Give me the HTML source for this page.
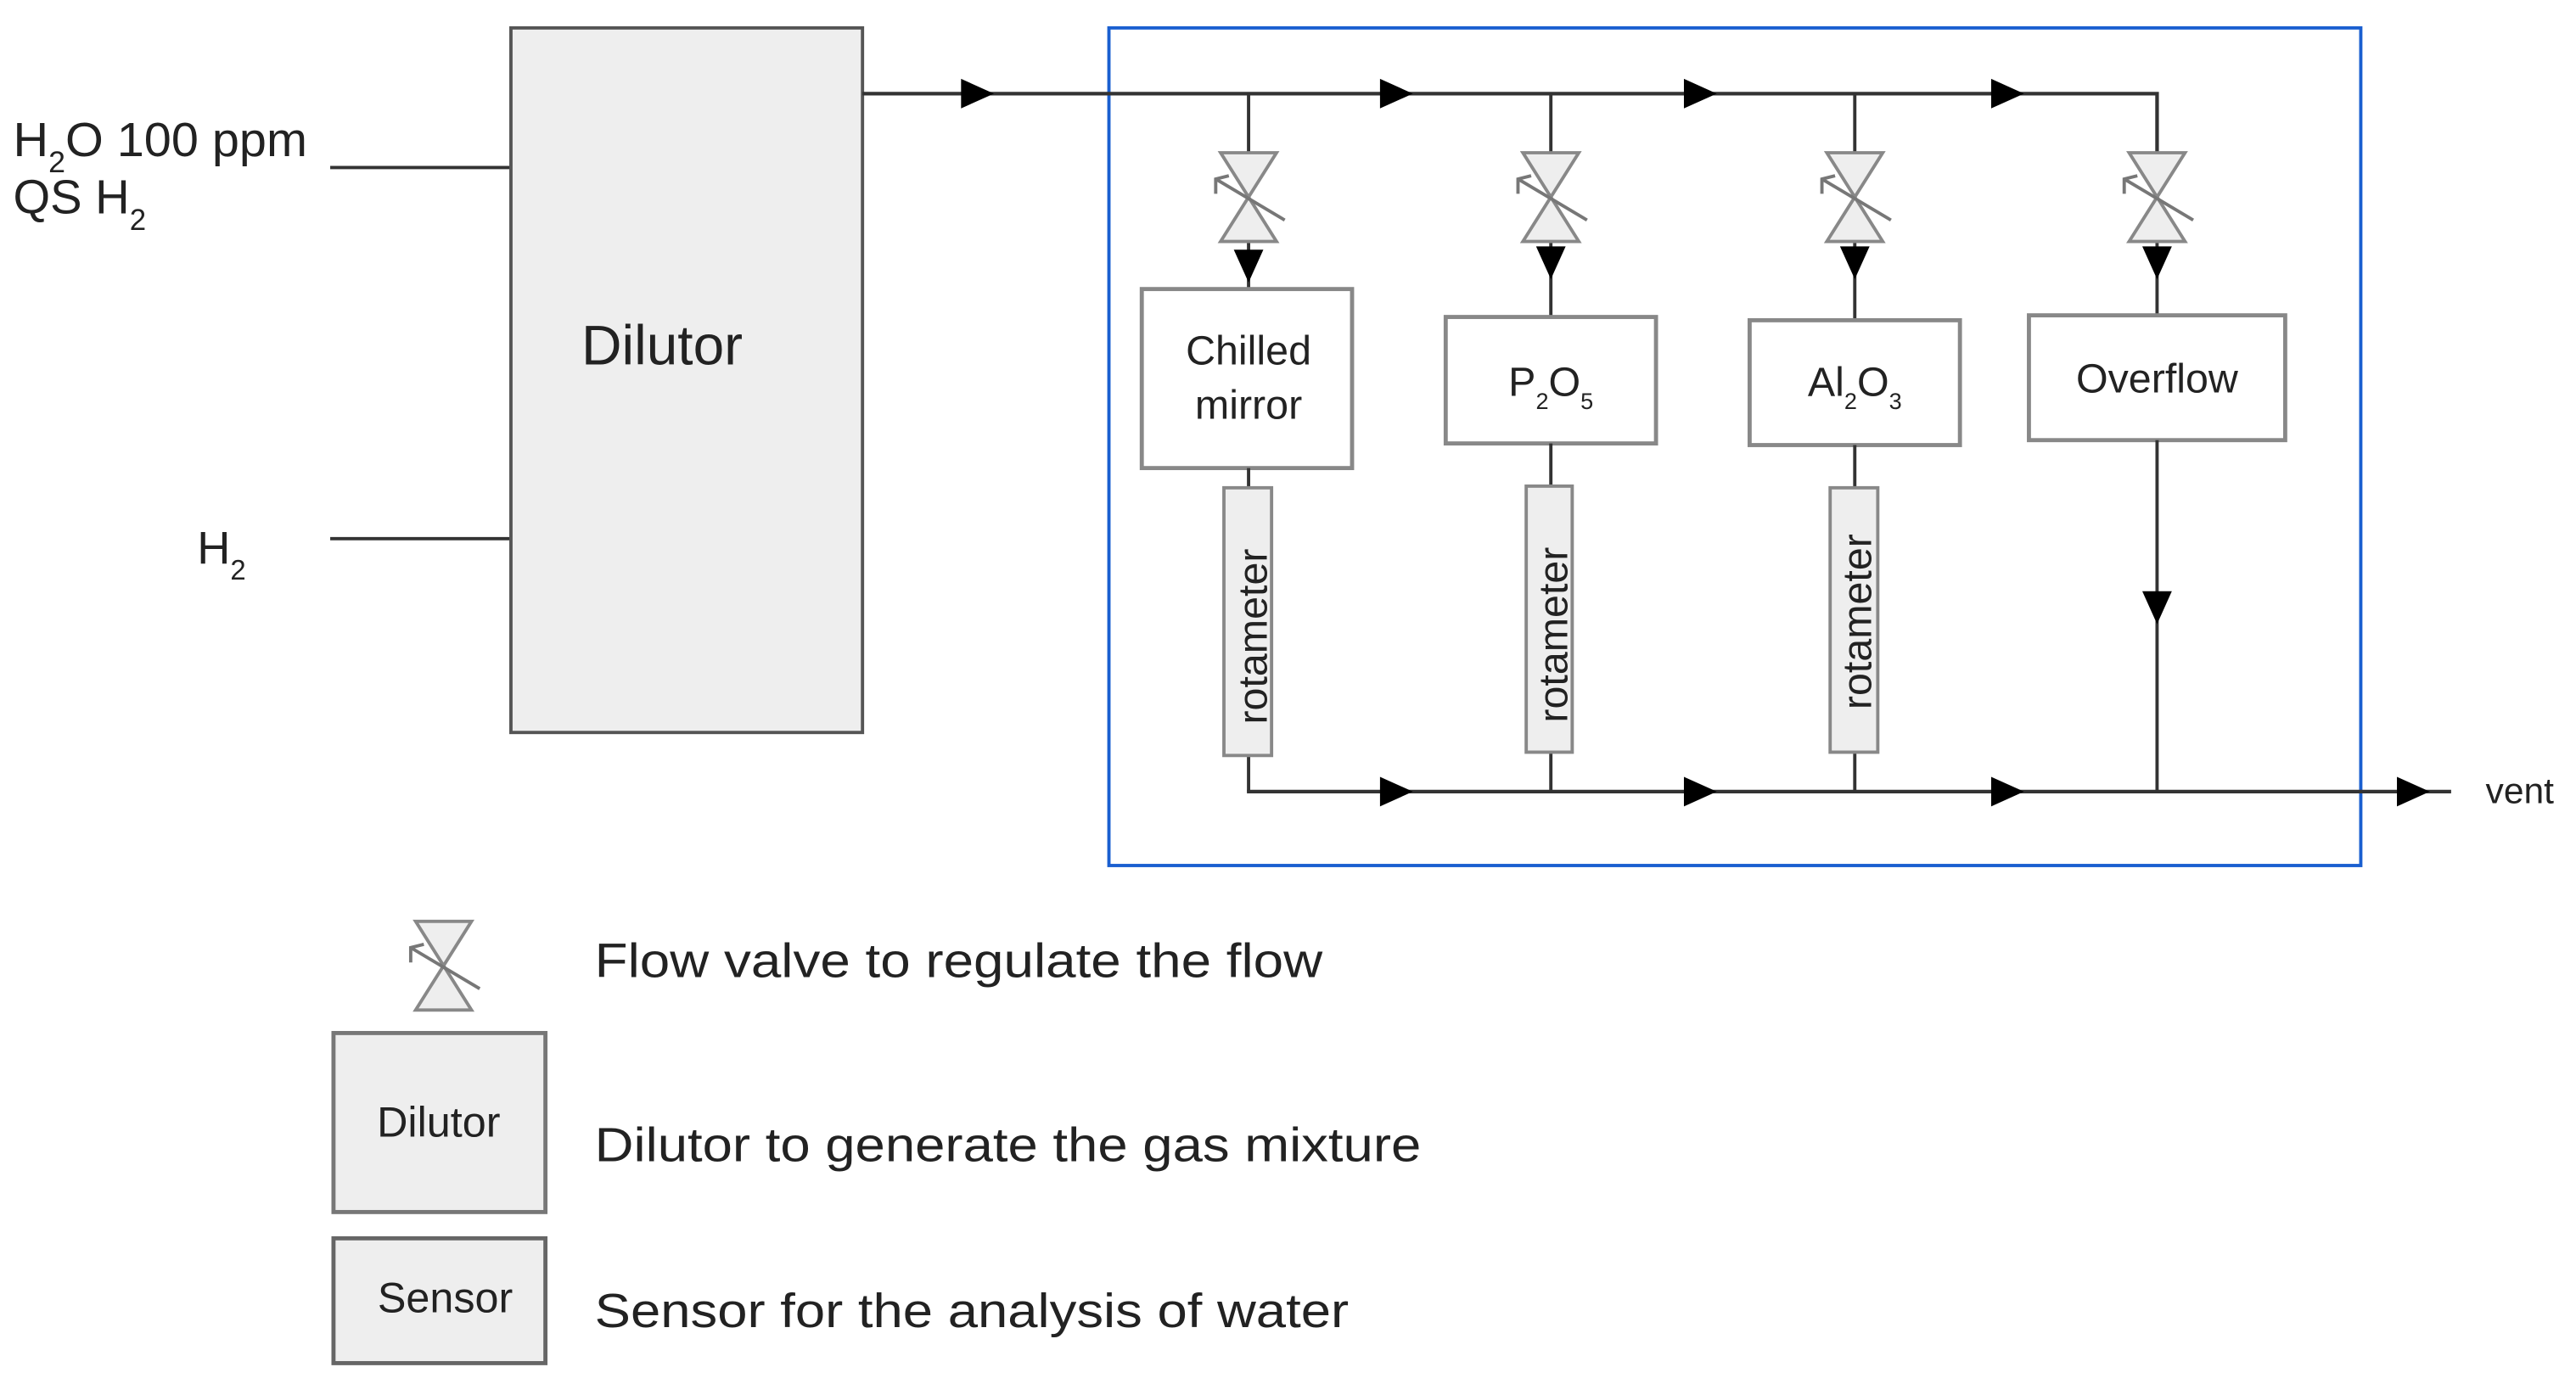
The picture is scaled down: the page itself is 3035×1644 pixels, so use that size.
<!DOCTYPE html>
<html><head><meta charset="utf-8">
<style>
html,body{margin:0;padding:0;background:#fff;}
svg{display:block;}
text{font-family:"Liberation Sans",Arial,sans-serif;fill:#222;}
</style></head>
<body>
<svg width="3035" height="1644" viewBox="0 0 1568 849.4" preserveAspectRatio="none" xmlns="http://www.w3.org/2000/svg">
<defs>
  <g id="valve">
    <polygon points="-17,-27 17,-27 0,0" fill="#eee" stroke="#888" stroke-width="2"/>
    <polygon points="-17,27 17,27 0,0" fill="#eee" stroke="#888" stroke-width="2"/>
    <line x1="-20" y1="-11" x2="22" y2="14" stroke="#777" stroke-width="2"/>
    <polyline points="-20,-2 -20,-11 -12,-13" fill="none" stroke="#777" stroke-width="2"/>
  </g>
  <polygon id="arrR" points="-10,-9 10,0 -10,9" fill="#000"/>
  <polygon id="arrD" points="-9,-10 9,-10 0,10" fill="#000"/>
</defs>

<line x1="201" y1="102" x2="311" y2="102" stroke="#333" stroke-width="2"/>
<line x1="201" y1="328" x2="311" y2="328" stroke="#333" stroke-width="2"/>
<text x="8" y="95" font-size="29" textLength="179" lengthAdjust="spacingAndGlyphs">H<tspan font-size="18" dy="10">2</tspan><tspan dy="-10">O 100 ppm</tspan></text>
<text x="8" y="130" font-size="29">QS H<tspan font-size="18" dy="10">2</tspan></text>
<text x="120" y="343" font-size="28">H<tspan font-size="17" dy="10">2</tspan></text>

<rect x="311" y="17" width="214" height="429" fill="#eee" stroke="#555" stroke-width="2"/>
<text x="403" y="222" font-size="34" text-anchor="middle">Dilutor</text>

<rect x="675" y="17" width="762" height="510" fill="none" stroke="#1a5fd0" stroke-width="2"/>

<polyline points="525,57 1313,57 1313,93" fill="none" stroke="#333" stroke-width="2.2"/>
<use href="#arrR" x="595" y="57"/>
<use href="#arrR" x="850" y="57"/>
<use href="#arrR" x="1035" y="57"/>
<use href="#arrR" x="1222" y="57"/>

<g stroke="#333" stroke-width="2">
  <line x1="760" y1="57" x2="760" y2="176"/>
  <line x1="944" y1="57" x2="944" y2="193"/>
  <line x1="1129" y1="57" x2="1129" y2="195"/>
  <line x1="1313" y1="57" x2="1313" y2="192"/>
</g>
<use href="#valve" x="760" y="120"/>
<use href="#valve" x="944" y="120"/>
<use href="#valve" x="1129" y="120"/>
<use href="#valve" x="1313" y="120"/>
<use href="#arrD" x="760" y="162"/>
<use href="#arrD" x="944" y="160"/>
<use href="#arrD" x="1129" y="160"/>
<use href="#arrD" x="1313" y="160"/>

<g fill="#fff" stroke="#888" stroke-width="2.5">
  <rect x="695" y="176" width="128" height="109"/>
  <rect x="880" y="193" width="128" height="77"/>
  <rect x="1065" y="195" width="128" height="76"/>
  <rect x="1235" y="192" width="156" height="76"/>
</g>
<text x="760" y="222" font-size="25" text-anchor="middle">Chilled</text>
<text x="760" y="255" font-size="25" text-anchor="middle">mirror</text>
<text x="944" y="241" font-size="25" text-anchor="middle">P<tspan font-size="14" dy="8">2</tspan><tspan dy="-8">O</tspan><tspan font-size="14" dy="8">5</tspan></text>
<text x="1129" y="241" font-size="25" text-anchor="middle">Al<tspan font-size="14" dy="8">2</tspan><tspan dy="-8">O</tspan><tspan font-size="14" dy="8">3</tspan></text>
<text x="1313" y="239" font-size="25" text-anchor="middle">Overflow</text>

<g stroke="#333" stroke-width="2">
  <line x1="760" y1="285" x2="760" y2="297"/>
  <line x1="944" y1="270" x2="944" y2="296"/>
  <line x1="1129" y1="271" x2="1129" y2="297"/>
  <line x1="760" y1="460" x2="760" y2="482"/>
  <line x1="944" y1="458" x2="944" y2="482"/>
  <line x1="1129" y1="458" x2="1129" y2="482"/>
  <line x1="1313" y1="268" x2="1313" y2="482"/>
</g>
<use href="#arrD" x="1313" y="370"/>

<g fill="#eee" stroke="#888" stroke-width="2">
  <rect x="745" y="297" width="29" height="163"/>
  <rect x="929" y="296" width="28" height="162"/>
  <rect x="1114" y="297" width="29" height="161"/>
</g>
<text transform="translate(771,441) rotate(-90)" font-size="25">rotameter</text>
<text transform="translate(954,440) rotate(-90)" font-size="25">rotameter</text>
<text transform="translate(1139,432) rotate(-90)" font-size="25">rotameter</text>

<line x1="759" y1="482" x2="1492" y2="482" stroke="#333" stroke-width="2.2"/>
<use href="#arrR" x="850" y="482"/>
<use href="#arrR" x="1035" y="482"/>
<use href="#arrR" x="1222" y="482"/>
<use href="#arrR" x="1469" y="482"/>
<text x="1513" y="489" font-size="22">vent</text>

<use href="#valve" x="270" y="588"/>
<rect x="203" y="629" width="129" height="109" fill="#eee" stroke="#777" stroke-width="2.5"/>
<text x="267" y="692" font-size="26" text-anchor="middle">Dilutor</text>
<rect x="203" y="754" width="129" height="76" fill="#eee" stroke="#666" stroke-width="2.5"/>
<text x="271" y="799" font-size="26" text-anchor="middle">Sensor</text>
<text x="362" y="595" font-size="29" textLength="443" lengthAdjust="spacingAndGlyphs">Flow valve to regulate the flow</text>
<text x="362" y="707" font-size="29" textLength="503" lengthAdjust="spacingAndGlyphs">Dilutor to generate the gas mixture</text>
<text x="362" y="808" font-size="29" textLength="459" lengthAdjust="spacingAndGlyphs">Sensor for the analysis of water</text>
</svg>
</body></html>
